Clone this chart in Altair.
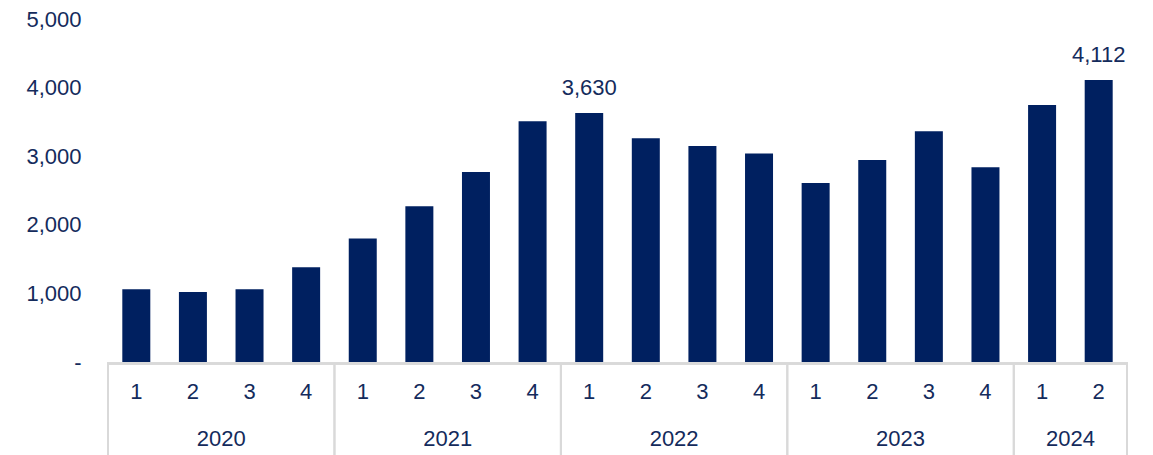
import altair as alt
import pandas as pd

years = ["2020"] * 4 + ["2021"] * 4 + ["2022"] * 4 + ["2023"] * 4 + ["2024"] * 2
quarters = ["1", "2", "3", "4"] * 4 + ["1", "2"]
values = [1060, 1020, 1060, 1380, 1800, 2270, 2770, 3510,
          3630, 3260, 3150, 3040, 2610, 2945, 3365, 2840,
          3745, 4112]
labelled = [False] * 8 + [True] + [False] * 8 + [True]
y_ticks = [0, 1000, 2000, 3000, 4000, 5000]

df = pd.DataFrame({
    "idx": list(range(len(values))),
    "year": years,
    "quarter": quarters,
    "value": values,
    "labelled": labelled,
})

W, H = 1019, 343
BAR = "#002060"
TXT = "#142B5C"
GRID = "#D9D9D9"
FONT = "Liberation Sans"
FS = 22

xs = alt.Scale(domain=[-0.5, len(values) - 0.5], nice=False, zero=False, padding=0)
ys = alt.Scale(domain=[0, 5000], nice=False, padding=0)

base = alt.Chart(df)

bars = base.mark_bar(width=28, color=BAR).encode(
    x=alt.X("idx:Q", scale=xs, axis=None),
    y=alt.Y("value:Q", scale=ys, axis=alt.Axis(
        values=y_ticks, title=None, grid=False, ticks=False, domain=False,
        labelExpr="datum.value == 0 ? '-' : format(datum.value, ',')",
        labelFont=FONT, labelFontSize=FS, labelColor=TXT,
        labelPadding=27, labelBaseline="alphabetic", labelOffset=7,
    )),
)

val_labels = base.transform_filter("datum.labelled").mark_text(
    font=FONT, fontSize=FS, color=TXT, baseline="alphabetic", dy=-18
).encode(
    x=alt.X("idx:Q", scale=xs),
    y=alt.Y("value:Q", scale=ys),
    text=alt.Text("value:Q", format=","),
)

q_labels = base.mark_text(
    font=FONT, fontSize=FS, color=TXT, baseline="alphabetic"
).encode(
    x=alt.X("idx:Q", scale=xs),
    y=alt.value(H + 37),
    text="quarter:N",
)

yr = base.transform_aggregate(
    mid="mean(idx)", lo="min(idx)", hi="max(idx)", groupby=["year"]
).transform_calculate(left="datum.lo - 0.5", right="datum.hi + 0.5")

y_labels = yr.mark_text(
    font=FONT, fontSize=FS, color=TXT, baseline="alphabetic"
).encode(
    x=alt.X("mid:Q", scale=xs),
    y=alt.value(H + 84),
    text="year:N",
)

sep_left = yr.mark_rule(color=GRID, strokeWidth=2).encode(
    x=alt.X("left:Q", scale=xs), y=alt.value(H + 1), y2=alt.value(H + 100)
)
sep_right = yr.mark_rule(color=GRID, strokeWidth=2).encode(
    x=alt.X("right:Q", scale=xs), y=alt.value(H + 1), y2=alt.value(H + 100)
)
top_line = base.mark_rule(color=GRID, strokeWidth=2).encode(
    x=alt.value(-1), x2=alt.value(W + 1), y=alt.value(H + 1.5)
)

chart = alt.layer(
    bars, val_labels, q_labels, y_labels, sep_left, sep_right, top_line
).properties(
    width=W, height=H,
    autosize=alt.AutoSizeParams(type="none"),
    padding={"left": 108, "top": 19, "right": 26, "bottom": 93},
    background="white",
).configure_view(stroke=None, strokeWidth=0)

chart.save("out.html", embed_options={"renderer": "svg", "actions": False})
